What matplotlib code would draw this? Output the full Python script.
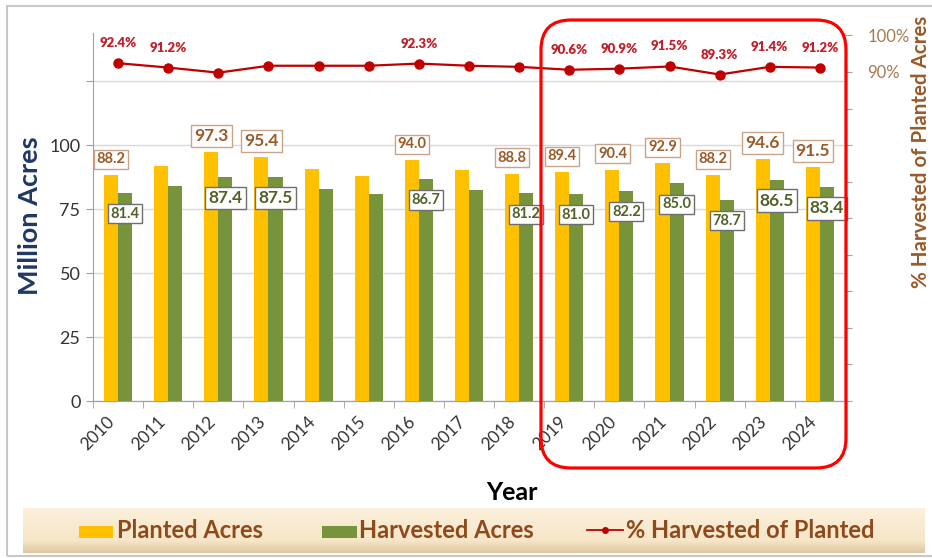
import numpy as np
import matplotlib
matplotlib.use("Agg")
import matplotlib.pyplot as plt
from matplotlib.patches import FancyBboxPatch, Rectangle
from matplotlib.lines import Line2D
from matplotlib.transforms import IdentityTransform

# ---------------- data ----------------
years = ["2010", "2011", "2012", "2013", "2014", "2015", "2016", "2017",
         "2018", "2019", "2020", "2021", "2022", "2023", "2024"]
planted = [88.2, 91.9, 97.3, 95.4, 90.6, 88.0, 94.0, 90.2, 88.8, 89.4,
           90.4, 92.9, 88.2, 94.6, 91.5]
harvested = [81.4, 83.8, 87.4, 87.5, 83.0, 80.7, 86.7, 82.6, 81.2, 81.0,
             82.2, 85.0, 78.7, 86.5, 83.4]
pct_harvested = [92.4, 91.2, 89.8, 91.7, 91.7, 91.7, 92.3, 91.7, 91.4, 90.6,
                 90.9, 91.5, 89.3, 91.4, 91.2]

acre_labels_shown = [0, 2, 3, 6, 8, 9, 10, 11, 12, 13, 14]
pct_labels_shown = [0, 1, 6, 9, 10, 11, 12, 13, 14]
big_labels = [2, 3, 13, 14]

# ---------------- style ----------------
FONT = ["Lato", "DejaVu Sans"]
plt.rcParams["font.family"] = FONT
YELLOW = "#FFC000"
GREEN = "#77933C"
RED = "#C00000"
BROWN = "#9A5A2A"
DKGREEN = "#4F6228"
NAVY = "#1F3864"

W, H = 932, 558
fig = plt.figure(figsize=(W / 100, H / 100), dpi=100)
fig.patch.set_facecolor("white")

def fx(px):
    return px / W

def fy(py):
    return 1 - py / H

L, R, T, B = 93, 845, 33, 401
ax = fig.add_axes([fx(L), fy(B), fx(R - L), (B - T) / H])
ax2 = ax.twinx()

x = np.arange(len(years))
bw = 0.28
ax.bar(x - bw / 2, planted, bw, color=YELLOW, zorder=3)
ax.bar(x + bw / 2, harvested, bw, color=GREEN, zorder=3)

ax.set_xlim(-0.5, len(years) - 0.5)
ymax = (B - T) / 2.56
ax.set_ylim(0, ymax)
ax.set_yticks([0, 25, 50, 75, 100, 125])
ax.set_yticklabels(["0", "25", "50", "75", "100", ""])
ax.yaxis.grid(True, color="#D9D9D9", lw=1.0, zorder=0)
ax.set_axisbelow(True)
ax.tick_params(axis="y", direction="out", length=5, color="#A0A0A0",
               labelsize=13, labelcolor="#333333", pad=4)
ax.set_xticks(x)
ax.set_xticklabels(years, rotation=45, ha="right", rotation_mode="default")
ax.tick_params(axis="x", length=0, labelsize=12.5, labelcolor="#333333", pad=9)
ax.set_xticks(np.arange(-0.5, len(years), 1.0), minor=True)
ax.tick_params(axis="x", which="minor", length=5, color="#A0A0A0")

for side in ["top"]:
    ax.spines[side].set_visible(False)
    ax2.spines[side].set_visible(False)
for a in (ax, ax2):
    a.spines["left"].set_color("#A0A0A0")
    a.spines["bottom"].set_color("#A0A0A0")
    a.spines["right"].set_color("#BFBFBF")
ax2.spines["left"].set_visible(False)

# percent line
ax2.set_ylim(0, (B - T) / 3.656)
ax2.plot(x, pct_harvested, color=RED, lw=1.6, marker="o", markersize=6.5,
         zorder=5)
ax2.set_yticks(np.arange(0, 101, 10))
ax2.set_yticklabels([""] * 9 + ["90%", "100%"])
ax2.tick_params(axis="y", direction="out", length=5, color="#A0A0A0",
                labelsize=12, labelcolor="#A57A50", pad=11)

for i in pct_labels_shown:
    ax2.annotate(f"{pct_harvested[i]:.1f}%", (x[i], pct_harvested[i]),
                 xytext=(0, 20), textcoords="offset pixels", ha="center",
                 va="center", fontsize=9.5, fontweight="heavy", color="#C0202A",
                 zorder=6)

ax.set_zorder(ax2.get_zorder() + 1)
ax.patch.set_visible(False)

for i in acre_labels_shown:
    fs = 12.5 if i in big_labels else 10.5
    ax.annotate(f"{planted[i]:.1f}", (x[i] - bw / 2, planted[i]),
                xytext=(0, 16), textcoords="offset pixels", ha="center",
                va="center", fontsize=fs, fontweight="bold", color=BROWN,
                bbox=dict(boxstyle="square,pad=0.18", fc="white",
                          ec="#C9A488", lw=1.0), zorder=7)
    ax.annotate(f"{harvested[i]:.1f}", (x[i] + bw / 2, harvested[i]),
                xytext=(0, -21), textcoords="offset pixels", ha="center",
                va="center", fontsize=fs, fontweight="bold", color=DKGREEN,
                bbox=dict(boxstyle="square,pad=0.18", fc="white",
                          ec="#6F6F6F", lw=1.0), zorder=7)

# axis titles
fig.text(fx(30), fy(216), "Million Acres", rotation=90, ha="center",
         va="center", fontsize=19.5, fontweight="bold", color=NAVY)
fig.text(fx(512), fy(492), "Year", ha="center", va="center", fontsize=18,
         fontweight="bold", color="black")
fig.text(fx(921), fy(288), "% Harvested of Planted Acres", rotation=90,
         ha="center", va="bottom", fontsize=14.8, fontweight="bold",
         color="#9A5A2A")

# outer frame
fig.add_artist(Rectangle((7, 2), 940, H - 8, transform=IdentityTransform(),
                         fill=False, ec="#C8C8C8", lw=1.5))

# red highlight box
fig.add_artist(FancyBboxPatch((541, H - 468), 846 - 541, 468 - 20,
                              boxstyle="round,pad=0,rounding_size=30",
                              transform=IdentityTransform(), fill=False,
                              ec="#FF0000", lw=2.3, zorder=10))

# legend band
lx0, lx1, ly0, ly1 = 23, 925, 508, 553
lax = fig.add_axes([fx(lx0), fy(ly1), fx(lx1 - lx0), (ly1 - ly0) / H])
lax.axis("off")
c_top = np.array([251, 240, 220]) / 255
c_mid = np.array([247, 230, 200]) / 255
c_bot = np.array([222, 200, 162]) / 255
t = np.linspace(0, 1, 60)[:, None]
grad = np.where(t < 0.72, c_top + (c_mid - c_top) * (t / 0.72),
                c_mid + (c_bot - c_mid) * ((t - 0.72) / 0.28))
lax.imshow(grad[:, None, :].repeat(2, axis=1), aspect="auto",
           extent=[0, 1, 0, 1], origin="upper")
lax.set_xlim(0, 1)
lax.set_ylim(0, 1)

LEGC = "#8E4A1C"
ycen = 530
fig.add_artist(Rectangle((79, H - 538), 34, 12, transform=IdentityTransform(),
                         fc=YELLOW, ec="none", zorder=12))
fig.text(fx(117), fy(ycen), "Planted Acres", ha="left", va="center",
         fontsize=17, fontweight="bold", color=LEGC, zorder=12)
fig.add_artist(Rectangle((322, H - 538), 35, 12, transform=IdentityTransform(),
                         fc=GREEN, ec="none", zorder=12))
fig.text(fx(359), fy(ycen), "Harvested Acres", ha="left", va="center",
         fontsize=17, fontweight="bold", color=LEGC, zorder=12)
fig.add_artist(Line2D([fx(587), fx(623)], [fy(ycen), fy(ycen)],
                      transform=fig.transFigure, color=RED, lw=1.3,
                      marker=None, zorder=12))
fig.add_artist(Line2D([fx(605)], [fy(ycen)], transform=fig.transFigure,
                      color=RED, marker="o", markersize=4, zorder=12))
fig.text(fx(626), fy(ycen), "% Harvested of Planted", ha="left", va="center",
         fontsize=17, fontweight="bold", color=LEGC, zorder=12)

fig.savefig("out.png", dpi=100)
